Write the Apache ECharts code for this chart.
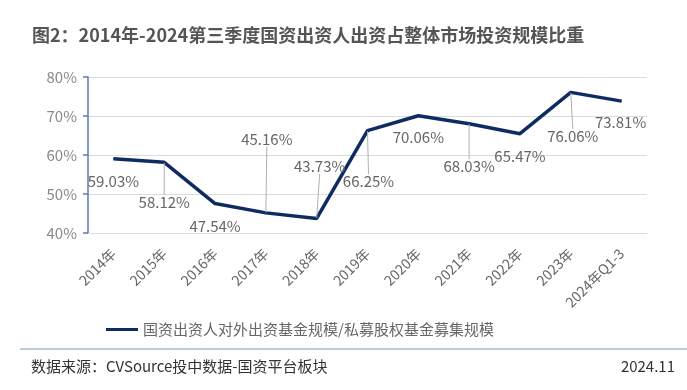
<!DOCTYPE html>
<html>
<head>
<meta charset="utf-8">
<script src="https://cdn.jsdelivr.net/npm/echarts@6/dist/echarts.min.js"></script>
<style>
html,body{margin:0;padding:0;background:#fff;}
#chart{width:687px;height:390px;}
</style>
</head>
<body>
<div id="chart"></div>
<script>
// ---- data ----
const categories = ['2014年','2015年','2016年','2017年','2018年','2019年','2020年','2021年','2022年','2023年','2024年Q1-3'];
const shareValues = [59.03, 58.12, 47.54, 45.16, 43.73, 66.25, 70.06, 68.03, 65.47, 76.06, 73.81];
const yTicks = [40, 50, 60, 70, 80];
const seriesName = '国资出资人对外出资基金规模/私募股权基金募集规模';
const titleText = '图2：2014年-2024第三季度国资出资人出资占整体市场投资规模比重';
const sourceText = '数据来源：CVSource投中数据-国资平台板块';
const dateText = '2024.11';

// ---- label placement (styling only) ----
const labelDx = [0, 0, 0, 1, 3, 1, 0, 0, 0, 2, -1];
const labelDy = [23, 40, 23, -74, -52, 51, 22, 43, 23, 44, 21];
const showLeader = [false, true, false, true, true, true, false, true, false, true, false];

const FONT = 'Noto Sans CJK SC';
const LINE_COLOR = '#0e2c62';
const chart = echarts.init(document.getElementById('chart'));

const seriesData = shareValues.map((v, i) => ({
  value: v,
  labelLine: { show: showLeader[i] }
}));

chart.setOption({
  animation: false,
  textStyle: { fontFamily: FONT },
  title: {
    text: titleText,
    left: 27,
    top: 21,
    textStyle: { fontFamily: FONT, fontSize: 18, fontWeight: 'bold', color: '#555' }
  },
  legend: {
    left: 101,
    top: 317,
    icon: 'rect',
    itemWidth: 32,
    itemHeight: 3,
    itemGap: 5,
    textStyle: { fontFamily: FONT, fontSize: 15, color: '#666' },
    data: [{ name: seriesName, itemStyle: { color: LINE_COLOR } }]
  },
  grid: { left: 88, right: 40, top: 77, bottom: 157, containLabel: false },
  xAxis: {
    type: 'category',
    data: categories,
    boundaryGap: true,
    axisLine: { show: true, lineStyle: { color: '#dcdcdc', width: 1 } },
    axisTick: { show: false },
    axisLabel: { rotate: 45, margin: 18, fontSize: 14, color: '#666', fontFamily: FONT, interval: 0 }
  },
  yAxis: {
    type: 'value',
    min: yTicks[0],
    max: yTicks[yTicks.length - 1],
    interval: yTicks[1] - yTicks[0],
    axisLine: { show: true, lineStyle: { color: '#5b7db5', width: 1.5 } },
    axisTick: { show: true, length: 5, lineStyle: { color: '#5b7db5', width: 1.5 } },
    axisLabel: { formatter: '{value}%', fontSize: 15, color: '#888', margin: 11, fontFamily: FONT },
    splitLine: { show: true, lineStyle: { color: '#dcdcdc', width: 1 } }
  },
  series: [{
    name: seriesName,
    type: 'line',
    data: seriesData,
    symbol: 'circle',
    symbolSize: 1,
    showSymbol: true,
    lineStyle: { color: LINE_COLOR, width: 3.5 },
    itemStyle: { color: LINE_COLOR },
    label: {
      show: true,
      position: 'inside',
      formatter: p => p.value.toFixed(2) + '%',
      fontSize: 15,
      color: '#666',
      fontFamily: FONT
    },
    labelLine: { show: false, lineStyle: { color: '#b0b0b0', width: 1 }, smooth: false },
    labelLayout: p => ({ dx: labelDx[p.dataIndex], dy: labelDy[p.dataIndex] })
  }],
  graphic: [
    { type: 'line', shape: { x1: 20, y1: 349, x2: 687, y2: 349 }, style: { stroke: '#a9b8cc', lineWidth: 1.5 } },
    { type: 'text', left: 31, top: 359, style: { text: sourceText, fontSize: 15, fill: '#333', fontFamily: FONT } },
    { type: 'text', right: 12, top: 359, style: { text: dateText, fontSize: 15, fill: '#333', fontFamily: FONT } }
  ]
});
</script>
</body>
</html>
